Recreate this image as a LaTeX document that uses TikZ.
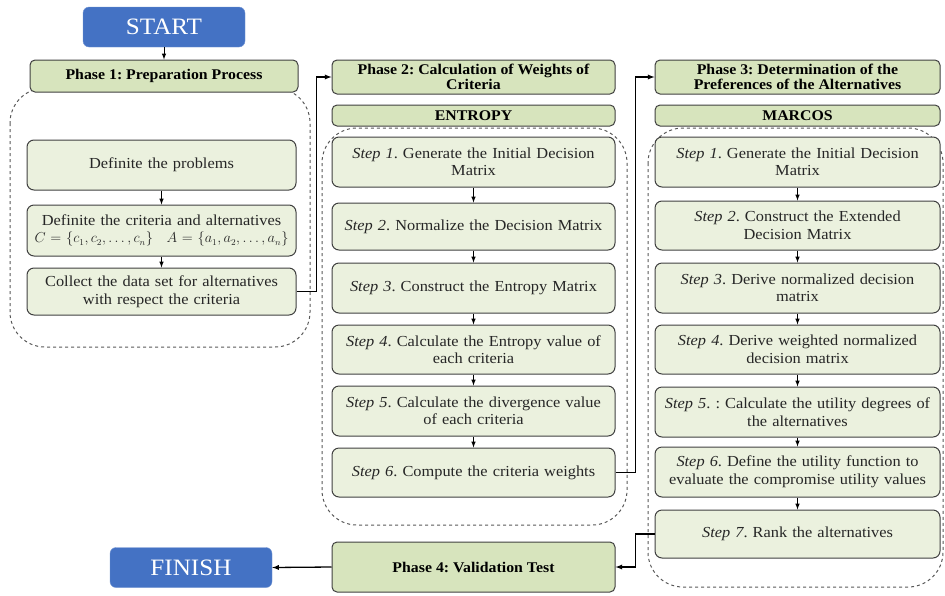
\documentclass[tikz,border=0pt]{standalone}
\usepackage{fontspec}
\setmainfont{Liberation Serif}[FakeStretch=1.07]
\usepackage{amsmath}
\usetikzlibrary{positioning}

\definecolor{termblue}{HTML}{4472C4}
\definecolor{phasegreen}{HTML}{D7E4BD}
\definecolor{stepgreen}{HTML}{EBF1DE}
\definecolor{boxline}{HTML}{404040}

\begin{document}
\begin{tikzpicture}[x=1pt,y=-1pt]
\tikzstyle{term}=[rectangle, rounded corners=6pt, fill=termblue, draw=termblue!75!white, text=white, font=\fontsize{23.5}{26}\selectfont, minimum width=162pt, minimum height=40pt]
\tikzstyle{phase}=[rectangle, rounded corners=5pt, fill=phasegreen, draw=boxline, line width=1pt, font=\fontsize{14.8}{15.5}\selectfont\bfseries\frenchspacing, align=center, inner sep=0pt]
\tikzstyle{stepbox}=[rectangle, rounded corners=7pt, fill=stepgreen, draw=boxline, line width=1pt, text=black!85, font=\fontsize{15.3}{17.5}\selectfont\frenchspacing, align=center, inner sep=0pt, text width=266pt]
\tikzstyle{region}=[rounded corners=35pt, draw=black!65, dashed, line width=1pt]
\tikzstyle{connect}=[-latex, line width=1.3pt]
\tikzstyle{link}=[-latex, line width=1pt]
\useasboundingbox (0,0) rectangle (945,595);
% dashed groups
\draw[region] (10,88) rectangle (310,347);
\draw[region] (322,128) rectangle (627,525);
\draw[region] (648,128) rectangle (943,587);
% phase 1
\node[term] (start) at (164,27) {START};
\node[phase, minimum width=268pt, minimum height=32pt] (ph1) at (164,76) {Phase 1: Preparation Process};
\node[stepbox, minimum width=269pt, minimum height=50pt] (prob) at (161.5,165) {Definite the problems};
\node[stepbox, minimum width=269pt, minimum height=51pt] (crit) at (161.5,230.5) {Definite the criteria and alternatives\\{\fontsize{13.5}{16}\selectfont$C=\{c_1,c_2,\ldots,c_n\}\quad A=\{a_1,a_2,\ldots,a_n\}$}};
\node[stepbox, minimum width=269pt, minimum height=47pt] (data) at (161.5,291.5) {Collect the data set for alternatives\\with respect the criteria};
% phase 2
\node[phase, minimum width=283pt, minimum height=34pt] (ph2) at (473.5,77) {Phase 2: Calculation of Weights of\\Criteria};
\node[phase, minimum width=283pt, minimum height=21pt] (entropy) at (473.5,115.5) {ENTROPY};
\node[stepbox, minimum width=283pt, minimum height=50pt] (e1) at (473.5,162) {\textit{Step 1}. Generate the Initial Decision\\Matrix};
\node[stepbox, minimum width=283pt, minimum height=47pt] (e2) at (473.5,226.5) {\textit{Step 2}. Normalize the Decision Matrix};
\node[stepbox, minimum width=283pt, minimum height=50pt] (e3) at (473.5,288) {\textit{Step 3}. Construct the Entropy Matrix\\[6pt]};
\node[stepbox, minimum width=283pt, minimum height=49pt] (e4) at (473.5,349.5) {\textit{Step 4}. Calculate the Entropy value of\\each criteria};
\node[stepbox, minimum width=283pt, minimum height=50pt] (e5) at (473.5,411) {\textit{Step 5}. Calculate the divergence value\\of each criteria};
\node[stepbox, minimum width=283pt, minimum height=49pt] (e6) at (473.5,472.5) {\textit{Step 6}. Compute the criteria weights};
% phase 3
\node[phase, minimum width=285pt, minimum height=34pt] (ph3) at (797.5,77) {Phase 3: Determination of the\\Preferences of the Alternatives};
\node[phase, minimum width=285pt, minimum height=21pt] (marcos) at (797.5,115.5) {MARCOS};
\node[stepbox, minimum width=285pt, minimum height=50pt] (m1) at (797.5,162) {\textit{Step 1}. Generate the Initial Decision\\Matrix};
\node[stepbox, minimum width=285pt, minimum height=49pt] (m2) at (797.5,225.5) {\textit{Step 2}. Construct the Extended\\Decision Matrix};
\node[stepbox, minimum width=285pt, minimum height=50pt] (m3) at (797.5,288) {\textit{Step 3}. Derive normalized decision\\matrix};
\node[stepbox, minimum width=285pt, minimum height=49pt] (m4) at (797.5,349.5) {\textit{Step 4}. Derive weighted normalized\\decision matrix};
\node[stepbox, minimum width=285pt, minimum height=50pt] (m5) at (797.5,412) {\textit{Step 5}. : Calculate the utility degrees of\\the alternatives};
\node[stepbox, minimum width=285pt, minimum height=50pt, text width=283pt] (m6) at (797.5,472) {\textit{Step 6}. Define the utility function to\\evaluate the compromise utility values};
\node[stepbox, minimum width=285pt, minimum height=48pt] (m7) at (797.5,534) {\textit{Step 7}. Rank the alternatives};
% phase 4
\node[phase, minimum width=283pt, minimum height=50pt] (ph4) at (473.5,567) {Phase 4: Validation Test};
\node[term] (finish) at (191,567.5) {FINISH};
% arrows
\draw[link] (start) -- (ph1);
\draw[link] (prob) -- (crit);
\draw[link] (crit) -- (data);
\foreach \a/\b in {e1/e2,e2/e3,e3/e4,e4/e5,e5/e6,m1/m2,m2/m3,m3/m4,m4/m5,m5/m6,m6/m7}
  \draw[link] (\a) -- (\b);
\draw[connect] (data.east) -- ++(20,0) |- (ph2.west);
\draw[connect] (e6.east) -- ++(20,0) |- (ph3.west);
\draw[connect] (m7.west) -- ++(-19,0) |- (ph4.east);
\draw[connect] (ph4.west) -- (finish.east);
\end{tikzpicture}
\end{document}
